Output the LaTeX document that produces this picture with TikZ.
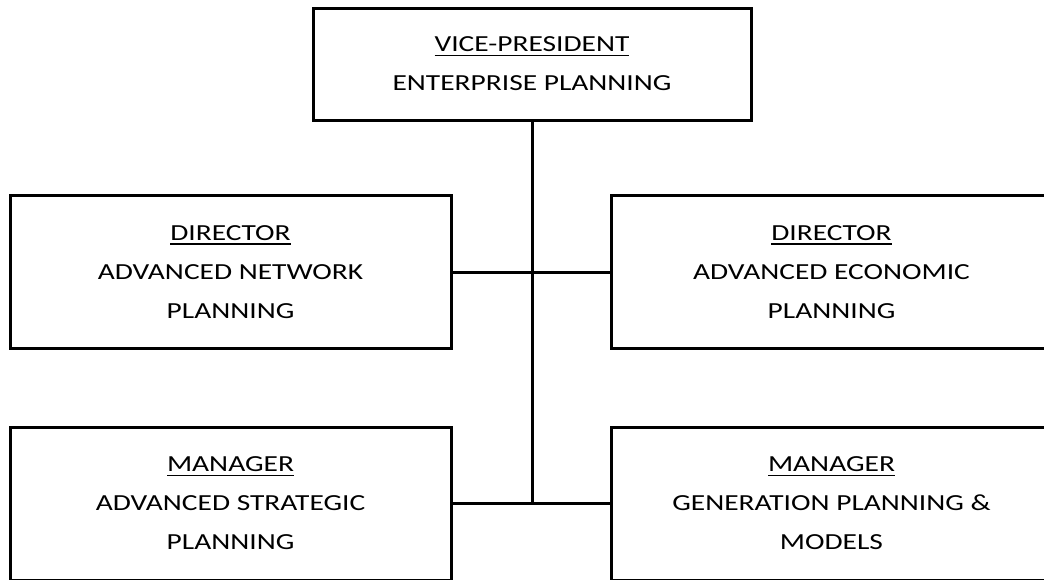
\documentclass[tikz,border=0pt]{standalone}
\usepackage{fontspec}
\setmainfont{Carlito}[FakeStretch=1.28]
\usepackage{tikz}
\usetikzlibrary{positioning, calc}

% job title with its rule underneath
\newsavebox{\rolebox}
\newcommand{\role}[1]{\sbox{\rolebox}{#1}\rlap{\rule[-4.2pt]{\wd\rolebox}{1.5pt}}\usebox{\rolebox}}

\begin{document}
\begin{tikzpicture}[x=1pt, y=-1pt, line width=3pt,
    post/.style={rectangle, draw, align=center, minimum width=441pt, minimum height=153pt,
                 font=\fontsize{23}{39}\selectfont}]
    \path[use as bounding box, fill=white] (0,0) rectangle (1044,579);
    \clip (0,0) rectangle (1044,579);

    \node[post, minimum width=438pt, minimum height=112pt] (vp) at (532, 64)
        {\role{VICE-PRESIDENT}\\ENTERPRISE PLANNING};
    \node[post] (dirnet) at (230.5, 272) {\role{DIRECTOR}\\ADVANCED NETWORK\\PLANNING};
    \node[post] (direco) at (831.5, 272) {\role{DIRECTOR}\\ADVANCED ECONOMIC\\PLANNING};
    \node[post] (mgrstr) at (230.5, 503.5) {\role{MANAGER}\\ADVANCED STRATEGIC\\PLANNING};
    \node[post] (mgrgen) at (831.5, 503.5) {\role{MANAGER}\\GENERATION PLANNING \&\\MODELS};

    \coordinate (hub) at (vp.south |- mgrstr.east);
    \draw (vp) -- (hub);
    \draw (dirnet) -- (direco);
    \draw (mgrstr) -- (mgrgen);
\end{tikzpicture}
\end{document}
